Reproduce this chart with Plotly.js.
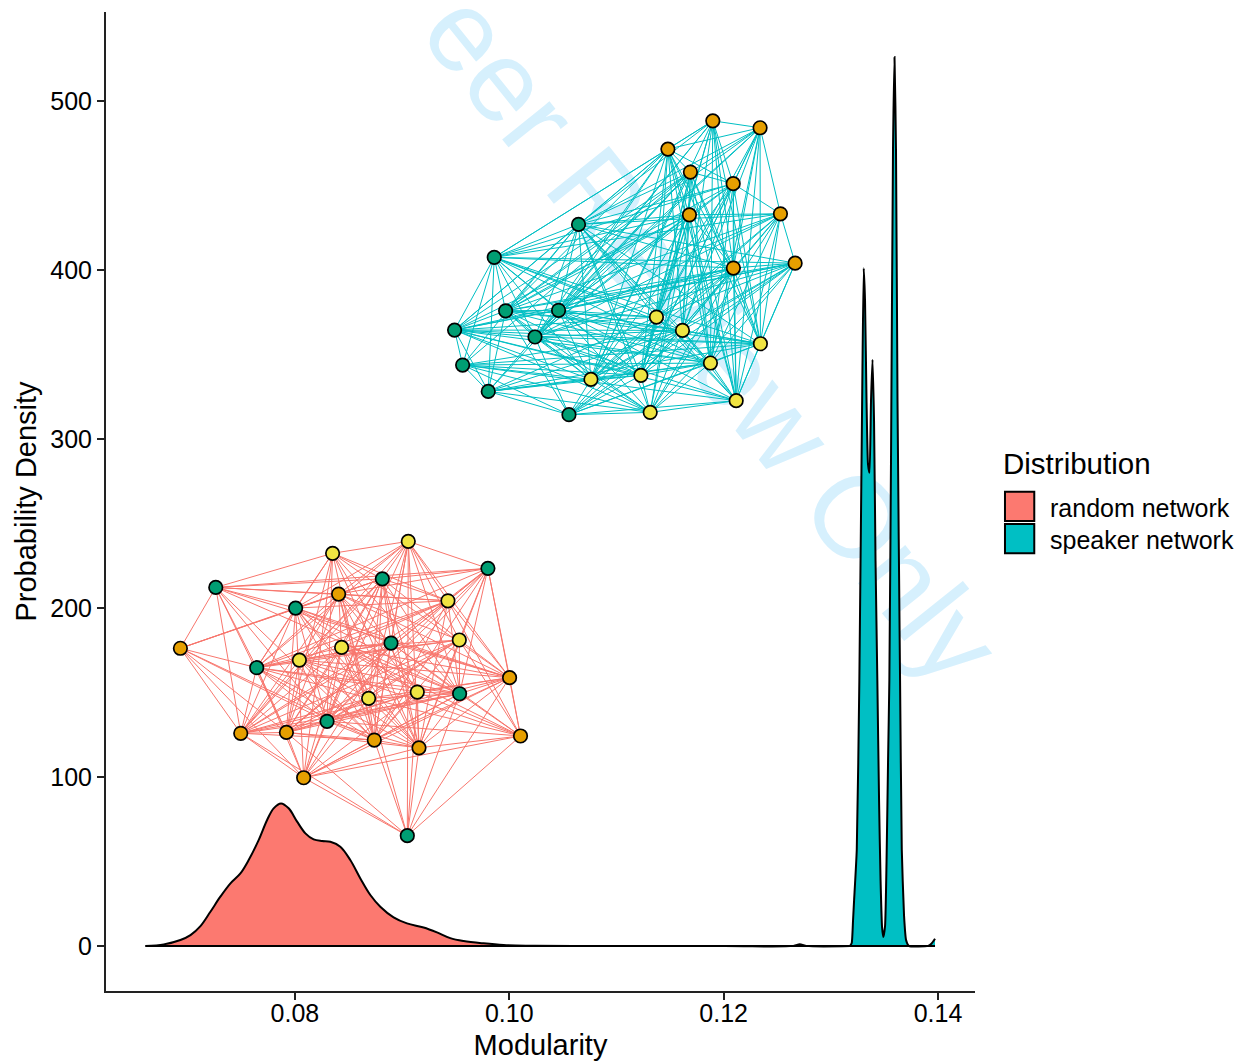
<!DOCTYPE html>
<html><head><meta charset="utf-8">
<script src="https://cdn.plot.ly/plotly-3.0.1.min.js"></script>
<style>
html,body{margin:0;padding:0;background:#fff;width:1244px;height:1061px;overflow:hidden}
#wm{position:absolute;white-space:nowrap;font-family:"Liberation Sans",sans-serif;font-size:115px;color:#d6f0fd;
transform-origin:100% 100%;z-index:0;line-height:1}
#chart{position:absolute;left:0;top:0;width:1244px;height:1061px;z-index:1}
</style></head><body>
<div id="wm" style="right:313px;bottom:358px;transform:rotate(51.3deg)">For Peer Review Only</div>
<div id="chart"></div>
<script>
const FONT='"Liberation Sans", Arial, sans-serif';
const randomX=[0.06606,0.06777,0.06932,0.07026,0.07119,0.07212,0.07305,0.07399,0.07492,0.07569,0.07662,0.07741,0.07802,0.07871,0.07942,0.08021,0.08098,0.08175,0.08254,0.08331,0.08424,0.08517,0.08611,0.08704,0.08797,0.08921,0.09046,0.09201,0.09326,0.0945,0.09574,0.0976,0.09947,0.10196,0.106,0.12,0.1265,0.1271,0.1277,0.1318];
const randomY=[0,1,3.6,6.5,11.8,20.3,29.2,37.1,43,50.9,62.7,74.6,81.5,84.4,81.5,73.6,66.7,63.1,62.1,61.7,58.8,50.9,40,30.2,23.3,17,13.4,11,8.1,4.7,3,1.6,0.6,0.2,0.05,0,0.1,1,0.1,0];
const speakerX=[0.13179,0.13195,0.13207,0.13217,0.13242,0.13266,0.13294,0.13307,0.13319,0.13333,0.13347,0.13361,0.13375,0.13389,0.13403,0.13417,0.13434,0.1345,0.13464,0.13478,0.1349,0.13506,0.1352,0.13534,0.13546,0.13562,0.1358,0.13594,0.13608,0.13622,0.13646,0.13662,0.13683,0.13702,0.1373,0.13907,0.1394,0.13972];
const speakerY=[0,1.8,15,27,57,157,335,401,382,323,285,280,323,347,311,228,157,86,39,11,5.3,12,51,110,157,293,471,526,471,323,157,57,18,3.5,0,0.1,1.5,4.3];
const baselineX=[0.06606,0.13972];
const baselineY=[0,0];

const speakerNodeX=[0.11899,0.1234,0.1148,0.1169,0.12089,0.11681,0.1253,0.12091,0.12667,0.10646,0.0986,0.09966,0.1046,0.0949,0.1024,0.09565,0.09804,0.10557,0.11373,0.11616,0.12343,0.11877,0.10762,0.11228,0.12117,0.11315];
const speakerNodeY=[488.3,484.2,471.6,458,451.1,432.7,433.3,401.2,404.1,427,407.5,375.9,376.2,364.5,360.4,343.8,328.2,314.4,372.2,364.3,356.4,345,335.3,337.7,322.7,315.8];
const speakerModule=['o','o','o','o','o','o','o','o','o','g','g','g','g','g','g','g','g','g','y','y','y','y','y','y','y','y'];
const speakerLinks=[
[1,2,4,7,9,10,12,14,18,19,20,21,22,23,24],
[2,3,4,6,9,11,12,14,18,19,20,21,23,24,7],
[3,4,5,7,9,10,11,12,13,14,18,19,20,21,22,23,24],
[4,5,7,9,11,12,13,14,15,16,18,19,20,21,22,23,24,25],
[6,7,9,10,11,12,14,18,19,20,21,22,23,24],
[6,7,9,10,11,12,13,14,18,19,21,22,23,24,25],
[8,9,10,11,12,14,18,19,20,21,22,23,24,25],
[8,9,10,11,12,13,14,17,18,19,20,21,22,23,24,25],
[9,10,11,12,13,14,17,18,19,20,21,22,23,24,25],
[10,11,12,13,14,15,18,19,20,21,22,23,24,25],
[11,12,13,14,15,16,18,19,20,21,22,23],
[12,13,14,16,17,18,19,20,21,22,23,25],
[13,14,18,19,20,21,22,23,24,25],
[14,15,16,18,19,20,21,22,23,24,25],
[16,17,19,20,21,22,23,24,25],
[16,17,19,20,21,22,23,24,25],
[17,18,19,20,21,22,23,25],
[18,19,20,21,22,23,24,25],
[21,22,23,24],
[20,21,22,23,24,25],
[21,24],
[22,23,24,25],
[23,25],
[25],
[25],
[]];

const randomNodeX=[0.08352,0.09058,0.09428,0.09534,0.08436,0.08042,0.09142,0.08688,0.07262,0.08816,0.09801,0.08007,0.08897,0.07644,0.09537,0.083,0.09049,0.08408,0.06932,0.10003,0.07495,0.07921,0.08741,0.09158,0.10105,0.08082];
const randomNodeY=[232.4,239.5,204.3,181.1,176.7,169.2,150.3,146.6,212.2,217.3,223.5,200,179.3,164.7,149.3,133,65.3,208.3,176.2,158.8,125.9,126.4,121.9,117.3,124.3,99.6];
const randomModule=['y','y','y','y','y','y','y','y','g','g','g','g','g','g','g','g','g','o','o','o','o','o','o','o','o','o'];
const randomLinks=[
[1,8,9,2,11,13,14,6,19,21,22,23,25,15],
[10,3,2,9,11,12,13,14,15,19,22,23,7,16,20,17],
[10,8,9,17,11,13,15,14,21,22,19,23,20,4,5,24],
[10,9,5,4,13,14,15,19,21,22,23,24,7,20,17],
[9,12,13,14,15,20,21,22,23,6,7,17,24,19,25],
[12,13,14,15,20,21,22,23,24,17,9,19,7],
[9,11,14,15,17,19,20,21,22,23,24,25,13,16],
[11,14,17,15,21,22,23,10,19,20,24,25,13,9,16],
[9,10,11,17,18,14,21,20,13,22,15,19],
[10,11,17,12,18,14,22,23,21,20,15,25],
[17,13,15,19,21,22,23,24,14,12],
[17,18,14,21,22,13,20,25,15,19,12,23],
[14,13,15,17,19,20,21,22,23,24,25],
[18,21,22,23,20,25,15,14,17],
[19,20,21,24,25,15,16,22,23],
[18,20,21,22,23,24,25,19],
[25,20,21,22,23,19,24],
[18,20,21,19,23,22],
[20,21,22,25],
[24,23,22,25],
[21,22,25],
[22,25,23],
[23,25],
[24,25],
[25],
[]];

const moduleColors={o:'#E69F00',g:'#009E73',y:'#F0E442'};
const xTicks=[0.08,0.10,0.12,0.14];
const xTickLabels=['0.08','0.10','0.12','0.14'];
const yTicks=[0,100,200,300,400,500];
const legendTitle='Distribution';
const legendLabels=['random network','speaker network'];
const legendColors=['#FC7970','#00BFC4'];

function edgeTrace(xs,ys,links,color){
  const x=[],y=[];
  links.forEach((l,i)=>l.forEach(j=>{x.push(xs[i],xs[j],null);y.push(ys[i],ys[j],null);}));
  return {type:'scatter',mode:'lines',x,y,line:{color,width:1},hoverinfo:'skip',showlegend:false};
}
function nodeTrace(xs,ys,mods){
  return {type:'scatter',mode:'markers',x:xs,y:ys,hoverinfo:'skip',showlegend:false,cliponaxis:false,
    marker:{size:13.5,color:mods.map(m=>moduleColors[m]),line:{color:'#000',width:1.7}}};
}
function areaTrace(xs,ys,fill,smoothing){
  return {type:'scatter',mode:'lines',x:xs,y:ys,fill:'tozeroy',fillcolor:fill,hoverinfo:'skip',showlegend:false,
    line:{color:'#000',width:2,shape:'spline',smoothing}};
}
const traces=[
  edgeTrace(randomNodeX,randomNodeY,randomLinks,'#F8766D'),
  edgeTrace(speakerNodeX,speakerNodeY,speakerLinks,'#00BFC4'),
  nodeTrace(randomNodeX,randomNodeY,randomModule),
  nodeTrace(speakerNodeX,speakerNodeY,speakerModule),
  areaTrace(randomX,randomY,legendColors[0],1),
  areaTrace(speakerX,speakerY,legendColors[1],0.5),
  {type:'scatter',mode:'lines',x:baselineX,y:baselineY,line:{color:'#000',width:2},hoverinfo:'skip',showlegend:false}
];
const L=105.5,T=12,R=975,B=991;
const px=v=>(v-L)/(R-L), py=v=>(B-v)/(B-T);
const swatch=(y0,c)=>({type:'rect',xref:'paper',yref:'paper',x0:px(1005),x1:px(1034.3),y0:py(y0),y1:py(y0+29.3),fillcolor:c,line:{color:'#000',width:2}});
const label=(text,x,y,size)=>({text,xref:'paper',yref:'paper',x:px(x),y:py(y),xanchor:'left',yanchor:'middle',showarrow:false,font:{family:FONT,size,color:'#000'}});
const layout={
  width:1244,height:1061,margin:{l:L,r:1244-R,t:T,b:1061-B,pad:0},
  paper_bgcolor:'rgba(0,0,0,0)',plot_bgcolor:'rgba(0,0,0,0)',showlegend:false,
  font:{family:FONT,color:'#000'},
  xaxis:{range:[0.06238,0.14345],tickmode:'array',tickvals:xTicks,ticktext:xTickLabels,ticks:'outside',ticklen:7,tickwidth:2,tickcolor:'#222',ticklabelstandoff:-8,
    showgrid:false,zeroline:false,showline:true,linecolor:'#222',linewidth:2,tickfont:{size:25,color:'#000'},
    title:{text:'Modularity',font:{size:29,color:'#000'},standoff:10},automargin:false},
  yaxis:{range:[-26.6,552.7],tickmode:'array',tickvals:yTicks,ticks:'outside',ticklen:7,tickwidth:2,tickcolor:'#222',
    showgrid:false,zeroline:false,showline:true,linecolor:'#222',linewidth:2,tickfont:{size:25,color:'#000'},
    title:{text:'Probability Density',font:{size:29,color:'#000'},standoff:5},automargin:false},
  shapes:[swatch(491.7,legendColors[0]),swatch(524,legendColors[1])],
  annotations:[label(legendTitle,1001,463,29.5),label(legendLabels[0],1048,508,25),label(legendLabels[1],1048,540,25)]
};
Plotly.newPlot('chart',traces,layout,{displayModeBar:false,staticPlot:true});
</script></body></html>
